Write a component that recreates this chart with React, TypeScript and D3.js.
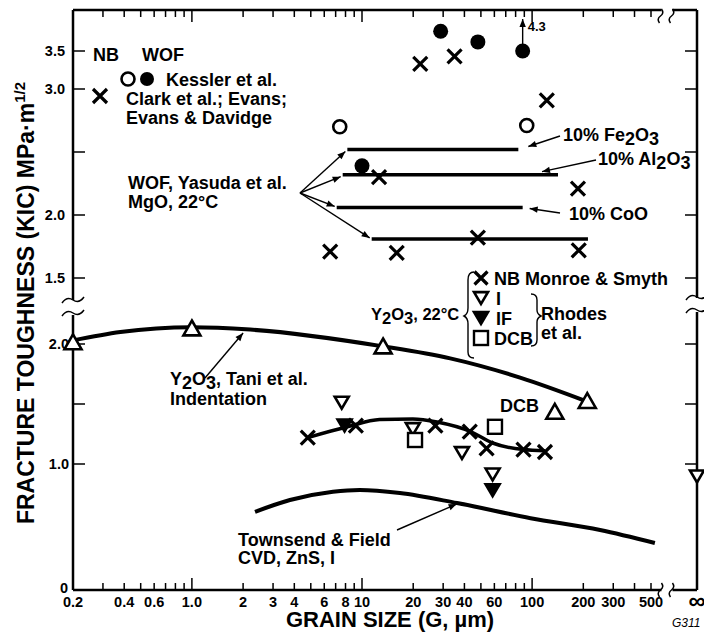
import React from 'react';
import * as d3 from 'd3';

// ---- data (grain size in µm, toughness in MPa·m^1/2) ----
// upper panel: MgO
const kesslerNB = [[7.4, 2.7], [93, 2.71]];
const kesslerWOF = [[29, 3.76], [48, 3.62], [88, 3.5], [10, 2.39]];
const clarkNB = [[6.5, 1.71], [16, 1.7], [22, 3.33], [35, 3.43], [12.6, 2.3], [48, 1.82], [122, 2.91], [186, 2.21], [188, 1.72]];
const yasudaNames = ['Fe2O3', 'Al2O3', 'CoO', 'MgO'];
const yasudaFrom = [8.2, 7.7, 7.1, 11.4];
const yasudaTo = [83, 142, 88, 213];
const yasudaK = [2.52, 2.32, 2.06, 1.81];

// lower panel: Y2O3 and ZnS
const taniTri = [[0.2, 2.01], [1.0, 2.125], [13.3, 1.975], [211, 1.52]];
const taniCurve = [[0.2, 2.03], [0.38, 2.1], [1.0, 2.14], [2.2, 2.12], [13.3, 1.98], [33, 1.88], [85, 1.72], [211, 1.52]];
const dcbTri = [[136, 1.43]];
const monroeX = [[4.8, 1.22], [9.2, 1.32], [27, 1.32], [43, 1.27], [54, 1.13], [89, 1.12], [119, 1.1]];
const monroeCurve = [[4.8, 1.22], [8.2, 1.31], [12.7, 1.37], [19.9, 1.375], [27.6, 1.35], [43.5, 1.27], [58.6, 1.175], [88.6, 1.12], [119, 1.11]];
const rhodesI = [[7.6, 1.52], [19.9, 1.3], [38.7, 1.1], [58.6, 0.925]];
const rhodesIinf = [0.91];
const rhodesIF = [[7.9, 1.33], [58.6, 0.8]];
const rhodesDCB = [[20.5, 1.2], [60.5, 1.31]];
const townsend = [[2.35, 0.62], [3.77, 0.714], [6.75, 0.78], [9.7, 0.794], [16.7, 0.77], [36.2, 0.69], [98, 0.57], [251, 0.476], [527, 0.373]];

// axes
const xLabels = [0.2, 0.4, 0.6, 1.0, 2, 3, 4, 6, 8, 10, 20, 30, 40, 60, 100, 200, 300, 500];
const xTicks = [0.2, 0.3, 0.4, 0.5, 0.6, 0.7, 0.8, 0.9, 1, 2, 3, 4, 5, 6, 7, 8, 9, 10, 20, 30, 40, 50, 60, 70, 80, 90, 100, 200, 300, 400, 500];
const upperTicks = [1.5, 2.0, 2.5, 3.0, 3.5];
const upperLabels = ['1.5', '2.0', '', '3.0', '3.5'];
const lowerTicks = [1.0, 1.5, 2.0];
const lowerLabels = ['1.0', '', '2.0'];

const L = 73, R = 697, T = 10, B = 590, UB = 300, LT = 315;
const FONT = 'Liberation Sans, Arial, Helvetica, sans-serif';

const x = d3.scaleLog().domain([0.2, 500]).range([73, 651]);
const yU = d3.scaleLinear().domain([1.5, 2.0, 2.5, 3.0, 3.5]).range([278, 215, 152, 89, 51]);
const yL = d3.scaleLinear().domain([0, 1, 2]).range([590, 464, 344]);
const xBreak = x(600);

function Cross({ cx, cy, s = 7 }) {
  return <path d={`M${cx - s},${cy - s}L${cx + s},${cy + s}M${cx - s},${cy + s}L${cx + s},${cy - s}`} stroke="#000" strokeWidth={3.2} />;
}
function TriUp({ cx, cy, s = 8.5 }) {
  return <path d={`M${cx},${cy - s}L${cx + s},${cy + s * 0.75}L${cx - s},${cy + s * 0.75}Z`} fill="#fff" stroke="#000" strokeWidth={2.6} />;
}
function TriDown({ cx, cy, s = 7, filled = false }) {
  return <path d={`M${cx - s},${cy - s * 0.7}L${cx + s},${cy - s * 0.7}L${cx},${cy + s}Z`} fill={filled ? '#000' : '#fff'} stroke="#000" strokeWidth={2.6} />;
}
function Sq({ cx, cy, s = 7 }) {
  return <rect x={cx - s} y={cy - s} width={2 * s} height={2 * s} fill="#fff" stroke="#000" strokeWidth={2.4} />;
}
function Sub({ t }) {
  return <tspan baselineShift="-4">{t}</tspan>;
}

const breakV = (cx, cy) => `M${cx - 11},${cy + 3}q5,-7 11,-3t11,-3`;
const breakH = (cx, cy) => `M${cx - 2},${cy + 7}q-3,-4 1,-7t1,-7`;

export default function App() {
  const line = d3.line().x(d => x(d[0])).curve(d3.curveMonotoneX);
  const lowerLine = line.y(d => yL(d[1]));
  const taniPath = lowerLine(taniCurve);
  const monroePath = lowerLine(monroeCurve);
  const townPath = lowerLine(townsend);
  const txt = { fontFamily: FONT, fontWeight: 'bold', fontSize: 18 };
  const arrow = (x1, y1, x2, y2, k) => (
    <line key={k} x1={x1} y1={y1} x2={x2} y2={y2} stroke="#000" strokeWidth={1.4} markerEnd="url(#ah)" />
  );

  return (
    <svg width={704} height={630} style={{ display: 'block' }} fontFamily={FONT}>
      <defs>
        <marker id="ah" viewBox="0 0 10 10" refX={10} refY={5} markerWidth={10} markerHeight={8} markerUnits="userSpaceOnUse" orient="auto">
          <path d="M0,1L10,5L0,9Z" fill="#000" />
        </marker>
      </defs>
      <g transform="translate(-8,-8)">
        {/* frame */}
        <g stroke="#000" strokeWidth={2.5} fill="none">
          <line x1={L} y1={T} x2={L} y2={UB} />
          <line x1={L} y1={LT} x2={L} y2={B} />
          <line x1={R} y1={T} x2={R} y2={UB - 2} />
          <line x1={R} y1={LT - 3} x2={R} y2={B} />
          <line x1={L} y1={B} x2={xBreak - 3} y2={B} />
          <line x1={xBreak + 8} y1={B} x2={R} y2={B} />
          <line x1={L} y1={T} x2={xBreak - 3} y2={T} />
          <line x1={xBreak + 8} y1={T} x2={R} y2={T} />
        </g>
        <g stroke="#000" strokeWidth={1.5} fill="none">
          <path d={breakV(L, UB)} />
          <path d={breakV(L, LT - 2)} />
          <path d={breakV(R, UB - 3)} />
          <path d={breakV(R, LT - 5)} />
          <path d={breakH(xBreak - 3, B)} />
          <path d={breakH(xBreak + 8, B)} />
          <path d={breakH(xBreak - 3, T + 6)} />
          <path d={breakH(xBreak + 8, T + 6)} />
        </g>
        {/* ticks */}
        <g stroke="#000" strokeWidth={1.5}>
          {xTicks.map(v => {
            const big = v === 1 || v === 10 || v === 100;
            const len = big ? 12 : 7;
            return (
              <g key={v}>
                <line x1={x(v)} x2={x(v)} y1={B} y2={B - len} />
                <line x1={x(v)} x2={x(v)} y1={T} y2={T + len} />
              </g>
            );
          })}
          {upperTicks.map(v => (
            <g key={'u' + v}>
              <line x1={L} x2={L + 12} y1={yU(v)} y2={yU(v)} />
              <line x1={R} x2={R - 12} y1={yU(v)} y2={yU(v)} />
            </g>
          ))}
          {lowerTicks.map(v => (
            <g key={'l' + v}>
              <line x1={L} x2={L + 12} y1={yL(v)} y2={yL(v)} />
              <line x1={R} x2={R - 12} y1={yL(v)} y2={yL(v)} />
            </g>
          ))}
        </g>
        <g {...txt} fontSize={14.5}>
          {xLabels.map(v => (
            <text key={v} x={x(v)} y={607} textAnchor="middle">{v === 1 ? '1.0' : String(v)}</text>
          ))}
          <text x={R} y={609} textAnchor="middle" fontSize={24}>∞</text>
          {upperTicks.map((v, i) => upperLabels[i] && (
            <text key={'ul' + v} x={L - 8} y={yU(v) + 5} textAnchor="end">{upperLabels[i]}</text>
          ))}
          {lowerTicks.map((v, i) => lowerLabels[i] && (
            <text key={'ll' + v} x={L - 4} y={yL(v) + 5} textAnchor="end">{lowerLabels[i]}</text>
          ))}
          <text x={L - 5} y={B + 3} textAnchor="end">0</text>
        </g>
        {/* axis titles */}
        <text transform="translate(34,303) rotate(-90)" textAnchor="middle" {...txt} fontSize={23}>
          FRACTURE TOUGHNESS (KIC) MPa·m<tspan baselineShift="9" fontSize={15}>1/2</tspan>
        </text>
        <text x={390} y={627} textAnchor="middle" {...txt} fontSize={22}>GRAIN SIZE (G, µm)</text>
        <text x={672} y={627} fontFamily={FONT} fontStyle="italic" fontSize={12}>G311</text>

        {/* upper panel: Yasuda lines */}
        <g stroke="#000" strokeWidth={3.5}>
          {yasudaNames.map((n, i) => (
            <line key={n} x1={x(yasudaFrom[i])} x2={x(yasudaTo[i])} y1={yU(yasudaK[i])} y2={yU(yasudaK[i])} />
          ))}
        </g>
        {yasudaNames.map((n, i) => arrow(300, 193, x(yasudaFrom[i]) - 2, yU(yasudaK[i]) + (i < 2 ? 2 : -1), 'ya' + n))}
        {arrow(560, 136, x(yasudaTo[0]) + 10, yU(yasudaK[0]) - 3, 'fe')}
        {arrow(596, 160, 542, yU(yasudaK[1]) - 3, 'al')}
        {arrow(560, 213, x(yasudaTo[2]) + 7, yU(yasudaK[2]) + 1, 'co')}
        {kesslerNB.map((d, i) => <circle key={'kn' + i} cx={x(d[0])} cy={yU(d[1])} r={6.5} fill="#fff" stroke="#000" strokeWidth={2.6} />)}
        {kesslerWOF.map((d, i) => <circle key={'kw' + i} cx={x(d[0])} cy={yU(d[1])} r={7.5} fill="#000" />)}
        <line x1={x(10)} x2={x(10)} y1={yU(2.39)} y2={yU(2.32)} stroke="#000" strokeWidth={2} />
        {clarkNB.map((d, i) => <Cross key={'cn' + i} cx={x(d[0])} cy={yU(d[1])} />)}
        {arrow(x(88), yU(3.5) - 7, x(88), 19, 'up')}
        <text x={x(88) + 5} y={31} {...txt} fontSize={13}>4.3</text>

        {/* upper legend */}
        <g {...txt}>
          <text x={93} y={61}>NB</text>
          <text x={142} y={61}>WOF</text>
          <text x={166} y={86}>Kessler et al.</text>
          <text x={126} y={105}>Clark et al.; Evans;</text>
          <text x={126} y={124}>Evans &amp; Davidge</text>
          <text x={128} y={189}>WOF, Yasuda et al.</text>
          <text x={128} y={208}>MgO, 22°C</text>
          <text x={563} y={141}>10% Fe<Sub t="2" />O<Sub t="3" /></text>
          <text x={598} y={165}>10% Al<Sub t="2" />O<Sub t="3" /></text>
          <text x={569} y={220}>10% CoO</text>
        </g>
        <circle cx={128} cy={79} r={6.5} fill="#fff" stroke="#000" strokeWidth={2.6} />
        <circle cx={147} cy={79} r={7} fill="#000" />
        <Cross cx={100} cy={96} />

        {/* lower panel curves */}
        <g fill="none" stroke="#000" strokeWidth={4}>
          <path d={taniPath} />
          <path d={monroePath} strokeWidth={3.5} />
          <path d={townPath} />
        </g>
        {arrow(205, 378, x(2.0), yL(2.125) + 4, 'tani')}
        {arrow(397, 530, x(36), yL(0.69) + 1, 'town')}
        {taniTri.map((d, i) => <TriUp key={'tt' + i} cx={x(d[0])} cy={yL(d[1])} />)}
        {dcbTri.map((d, i) => <TriUp key={'dt' + i} cx={x(d[0])} cy={yL(d[1])} />)}
        {monroeX.map((d, i) => <Cross key={'mx' + i} cx={x(d[0])} cy={yL(d[1])} />)}
        {rhodesI.map((d, i) => <TriDown key={'ri' + i} cx={x(d[0])} cy={yL(d[1])} />)}
        {rhodesIinf.map((v, i) => <TriDown key={'rinf' + i} cx={R} cy={yL(v)} />)}
        {rhodesIF.map((d, i) => <TriDown key={'rf' + i} cx={x(d[0])} cy={yL(d[1])} filled />)}
        {rhodesDCB.map((d, i) => <Sq key={'rd' + i} cx={x(d[0])} cy={yL(d[1])} />)}

        {/* lower annotations */}
        <g {...txt}>
          <text x={170} y={385}>Y<Sub t="2" />O<Sub t="3" />, Tani et al.</text>
          <text x={170} y={405}>Indentation</text>
          <text x={371} y={320} fontSize={16.5}>Y<Sub t="2" />O<Sub t="3" />, 22°C</text>
          <text x={494} y={285}>NB Monroe &amp; Smyth</text>
          <text x={496} y={305}>I</text>
          <text x={496} y={325}>IF</text>
          <text x={494} y={345}>DCB</text>
          <text x={541} y={320}>Rhodes</text>
          <text x={541} y={339}>et al.</text>
          <text x={500} y={412}>DCB</text>
          <text x={238} y={546}>Townsend &amp; Field</text>
          <text x={238} y={564}>CVD, ZnS, I</text>
        </g>
        <Cross cx={481} cy={278} s={6.5} />
        <TriDown cx={481} cy={297} />
        <TriDown cx={481} cy={317} filled />
        <Sq cx={481} cy={338} />
        <g fill="none" stroke="#000" strokeWidth={1.4}>
          <path d="M474,272 q-6,0 -6,8 v28 q0,6 -4,8 q4,2 4,8 v28 q0,6 6,6" />
          <path d="M531,294 q6,0 6,6 v10 q0,4 4,6 q-4,2 -4,6 v18 q0,6 -6,6" />
        </g>
      </g>
    </svg>
  );
}
